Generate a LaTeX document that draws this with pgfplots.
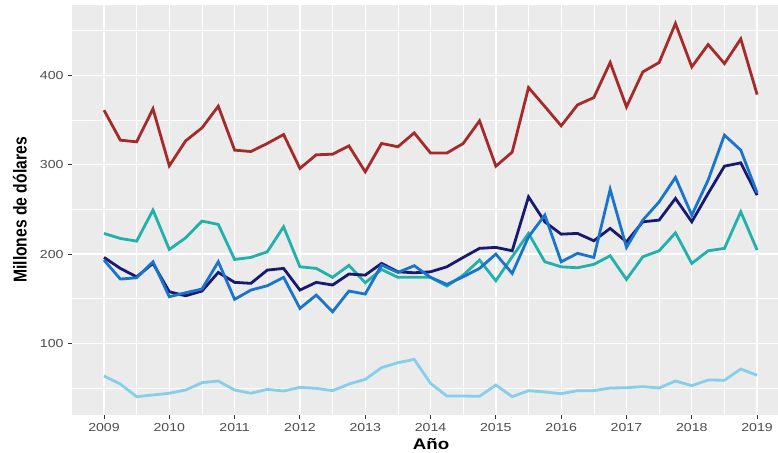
\documentclass[border=0pt]{standalone}
\usepackage{pgfplots}
\usepackage{pgfplotstable}
\pgfplotsset{compat=1.18}
\usepackage{fontspec}
\setmainfont[FakeStretch=1.22]{Liberation Sans}
\newfontfamily\ylabfont[FakeStretch=0.84]{Liberation Sans}
\definecolor{panelgrey}{HTML}{EBEBEB}
\definecolor{labelgrey}{HTML}{4D4D4D}
\definecolor{tickgrey}{HTML}{333333}
\definecolor{cred}{HTML}{A52A2A}
\definecolor{cteal}{HTML}{20B2AA}
\definecolor{cnavy}{HTML}{191970}
\definecolor{cblue}{HTML}{1874CD}
\definecolor{clight}{HTML}{87CEEB}
\pgfplotstableread{
x red teal navy blue light
2009.00 360.9 223.1 196.3 193.3 63.7
2009.25 327.4 217.5 184.0 172.1 54.7
2009.50 325.5 214.5 174.6 173.5 40.6
2009.75 362.4 249.2 189.6 191.4 42.5
2010.00 298.7 205.2 157.9 152.3 44.4
2010.25 326.6 218.2 153.4 156.8 48.0
2010.50 341.1 236.9 158.7 160.9 56.2
2010.75 365.4 233.2 179.5 191.4 58.1
2011.00 316.2 194.0 168.4 149.4 48.0
2011.25 314.7 196.3 167.3 159.8 44.4
2011.50 323.7 202.6 182.1 164.6 48.8
2011.75 333.7 230.5 184.0 174.0 46.9
2012.00 295.8 185.8 159.8 139.3 51.0
2012.25 311.0 184.0 168.4 154.2 49.9
2012.50 311.7 174.0 165.4 135.5 47.3
2012.75 321.0 187.4 177.7 158.7 54.7
2013.00 292.0 168.0 176.5 155.3 60.0
2013.25 323.7 182.8 189.6 187.7 73.0
2013.50 320.0 174.0 180.2 179.5 78.6
2013.75 335.5 174.0 179.1 187.0 82.3
2014.00 313.0 174.0 180.2 174.0 55.5
2014.25 313.0 164.2 185.8 166.1 41.3
2014.50 323.7 176.5 196.3 174.6 41.3
2014.75 349.0 193.3 206.4 184.0 41.0
2015.00 298.3 170.2 207.5 200.0 53.6
2015.25 314.0 197.0 203.7 178.4 40.6
2015.50 386.2 223.1 264.0 219.3 47.3
2015.75 365.0 191.4 236.0 243.6 45.8
2016.00 343.4 185.8 222.3 191.4 43.9
2016.25 366.8 184.7 223.1 200.8 47.3
2016.50 375.0 188.5 214.9 196.3 47.3
2016.75 414.2 198.1 228.7 272.3 50.3
2017.00 364.6 171.7 213.7 207.5 50.6
2017.25 403.7 197.0 236.1 238.0 51.8
2017.50 414.2 203.7 238.0 258.4 50.3
2017.75 457.8 223.8 262.2 285.7 58.1
2018.00 409.3 189.6 236.1 243.6 52.9
2018.25 434.3 203.7 267.8 282.7 59.2
2018.50 413.0 206.4 298.3 333.0 59.0
2018.75 440.6 247.3 302.0 316.2 71.5
2019.00 378.4 204.5 265.9 268.5 64.5
}\datatable
\begin{document}
\begin{tikzpicture}
\begin{axis}[
  scale only axis,
  width=529.5pt, height=307.5pt,
  at={(0,0)}, anchor=south west,
  xmin=2008.51, xmax=2019.32,
  ymin=20.1, ymax=478.5,
  axis background/.style={fill=panelgrey},
  axis line style={draw=none},
  grid=both,
  major grid style={white, line width=1.0pt},
  minor grid style={white, line width=0.5pt},
  xtick={2009,2010,2011,2012,2013,2014,2015,2016,2017,2018,2019},
  minor xtick={2009.5,2010.5,2011.5,2012.5,2013.5,2014.5,2015.5,2016.5,2017.5,2018.5,2019.5},
  ytick={100,200,300,400},
  minor ytick={50,150,250,350,450},
  xtick pos=lower, ytick pos=left,
  tick align=outside,
  major tick length=2.8pt,
  minor tick length=0pt,
  tick style={color=tickgrey, line width=0.75pt},
  /pgf/number format/assume math mode=true,
  /pgf/number format/1000 sep={},
  tick label style={font=\fontsize{8.7}{10}\selectfont, text=labelgrey},
  xlabel={Año},
  ylabel={Millones de dólares},
  xlabel style={font=\fontsize{11.5}{13}\selectfont\bfseries, at={(axis description cs:0.5085,0)}, anchor=center, yshift=-21.75pt},
  ylabel style={font=\ylabfont\fontsize{14}{16}\selectfont\bfseries, at={(axis description cs:-0.0737,0.5)}, anchor=center, rotate=0},
  clip=true,
]
\addplot[cred, line width=2.1pt] table[x=x, y=red] {\datatable};
\addplot[cteal, line width=2.1pt] table[x=x, y=teal] {\datatable};
\addplot[cnavy, line width=2.1pt] table[x=x, y=navy] {\datatable};
\addplot[cblue, line width=2.1pt] table[x=x, y=blue] {\datatable};
\addplot[clight, line width=2.1pt] table[x=x, y=light] {\datatable};
\end{axis}
\pgfresetboundingbox
\path (-54pt,-28.5pt) rectangle (529.5pt,311.25pt);
\end{tikzpicture}
\end{document}
